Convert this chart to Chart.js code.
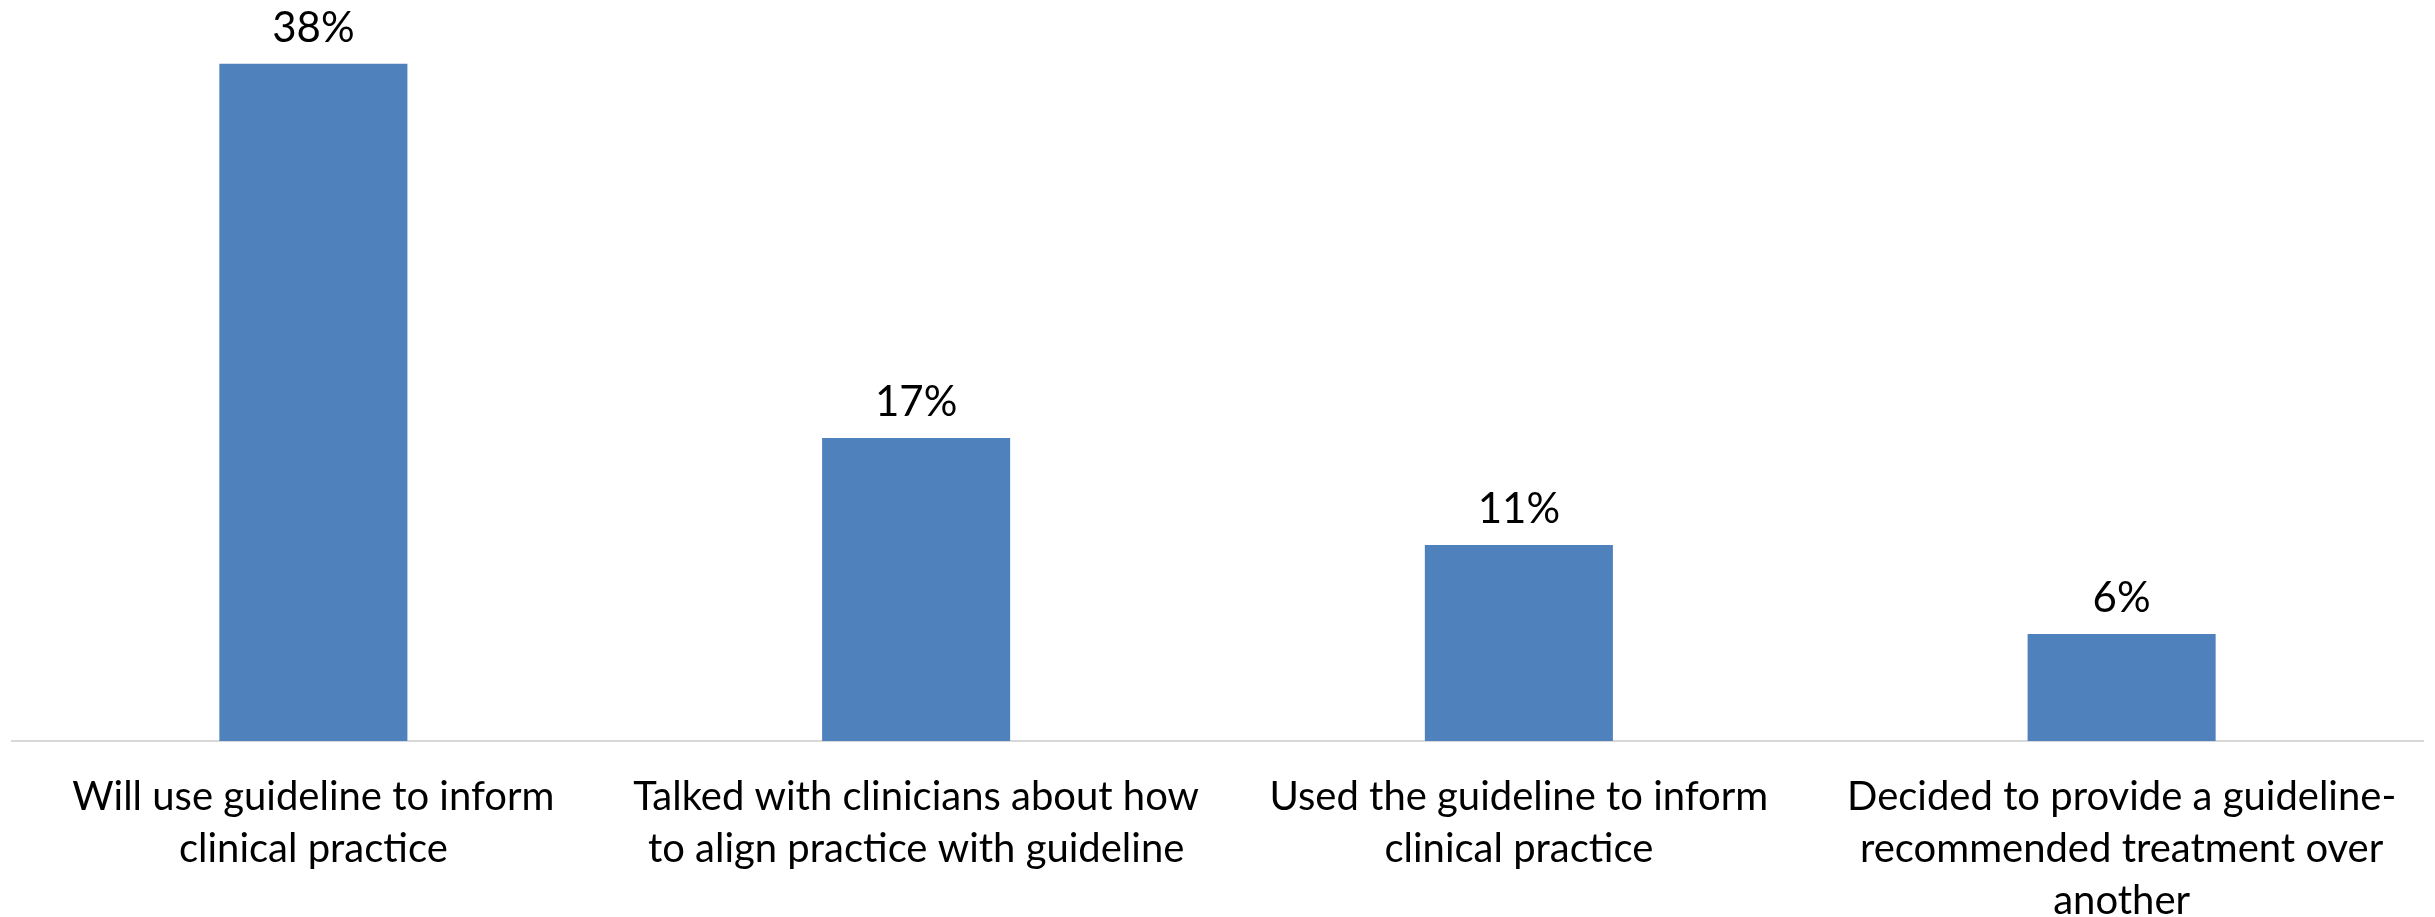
<!DOCTYPE html>
<html>
<head>
<meta charset="utf-8">
<script src="https://cdn.jsdelivr.net/npm/chart.js@4/dist/chart.umd.min.js"></script>
<style>
  html, body { margin: 0; padding: 0; background: #fff; }
  #wrap { width: 2435px; height: 917px; }
</style>
</head>
<body>
<div id="wrap"><canvas id="outcomeChart"></canvas></div>
<script>
const categories = [
    ['Will use guideline to inform', 'clinical practice'],
    ['Talked with clinicians about how', 'to align practice with guideline'],
    ['Used the guideline to inform', 'clinical practice'],
    ['Decided to provide a guideline-', 'recommended treatment over', 'another']
];
const percents = [38, 17, 11, 6];

const FONT = 'Lato, "DejaVu Sans Condensed", sans-serif';

// draws the "38%" style labels above each bar
const valueLabels = {
    id: 'valueLabels',
    afterDatasetsDraw(chart) {
        const ctx = chart.ctx;
        const meta = chart.getDatasetMeta(0);
        ctx.save();
        ctx.font = '42px ' + FONT;
        ctx.fillStyle = '#000';
        ctx.textAlign = 'center';
        ctx.textBaseline = 'alphabetic';
        meta.data.forEach((bar, i) => {
            ctx.fillText(percents[i] + '%', bar.x, bar.y - 22);
        });
        ctx.restore();
    }
};

document.addEventListener('DOMContentLoaded', () => {
    const ctxt = document.getElementById('outcomeChart').getContext('2d');
    new Chart(ctxt, {
        type: 'bar',
        data: {
            labels: categories,
            datasets: [{
                data: percents,
                backgroundColor: '#4f81bd',
                borderWidth: 0,
                categoryPercentage: 1,
                barPercentage: 0.312
            }]
        },
        options: {
            responsive: true,
            maintainAspectRatio: false,
            animation: false,
            layout: {
                padding: { left: 12, right: 12, top: 28, bottom: 0 }
            },
            plugins: {
                legend: { display: false },
                tooltip: { enabled: false }
            },
            scales: {
                x: {
                    grid: { display: false, drawTicks: false },
                    border: { display: true, color: '#d9d9d9', width: 2 },
                    ticks: {
                        color: '#000',
                        autoSkip: false,
                        maxRotation: 0,
                        padding: 30,
                        font: { family: FONT, size: 40, lineHeight: 1.3 }
                    },
                    afterFit(scale) {
                        scale.height = 176;
                    }
                },
                y: {
                    display: false,
                    min: 0,
                    max: 40
                }
            }
        },
        plugins: [valueLabels]
    });
});
</script>
</body>
</html>
